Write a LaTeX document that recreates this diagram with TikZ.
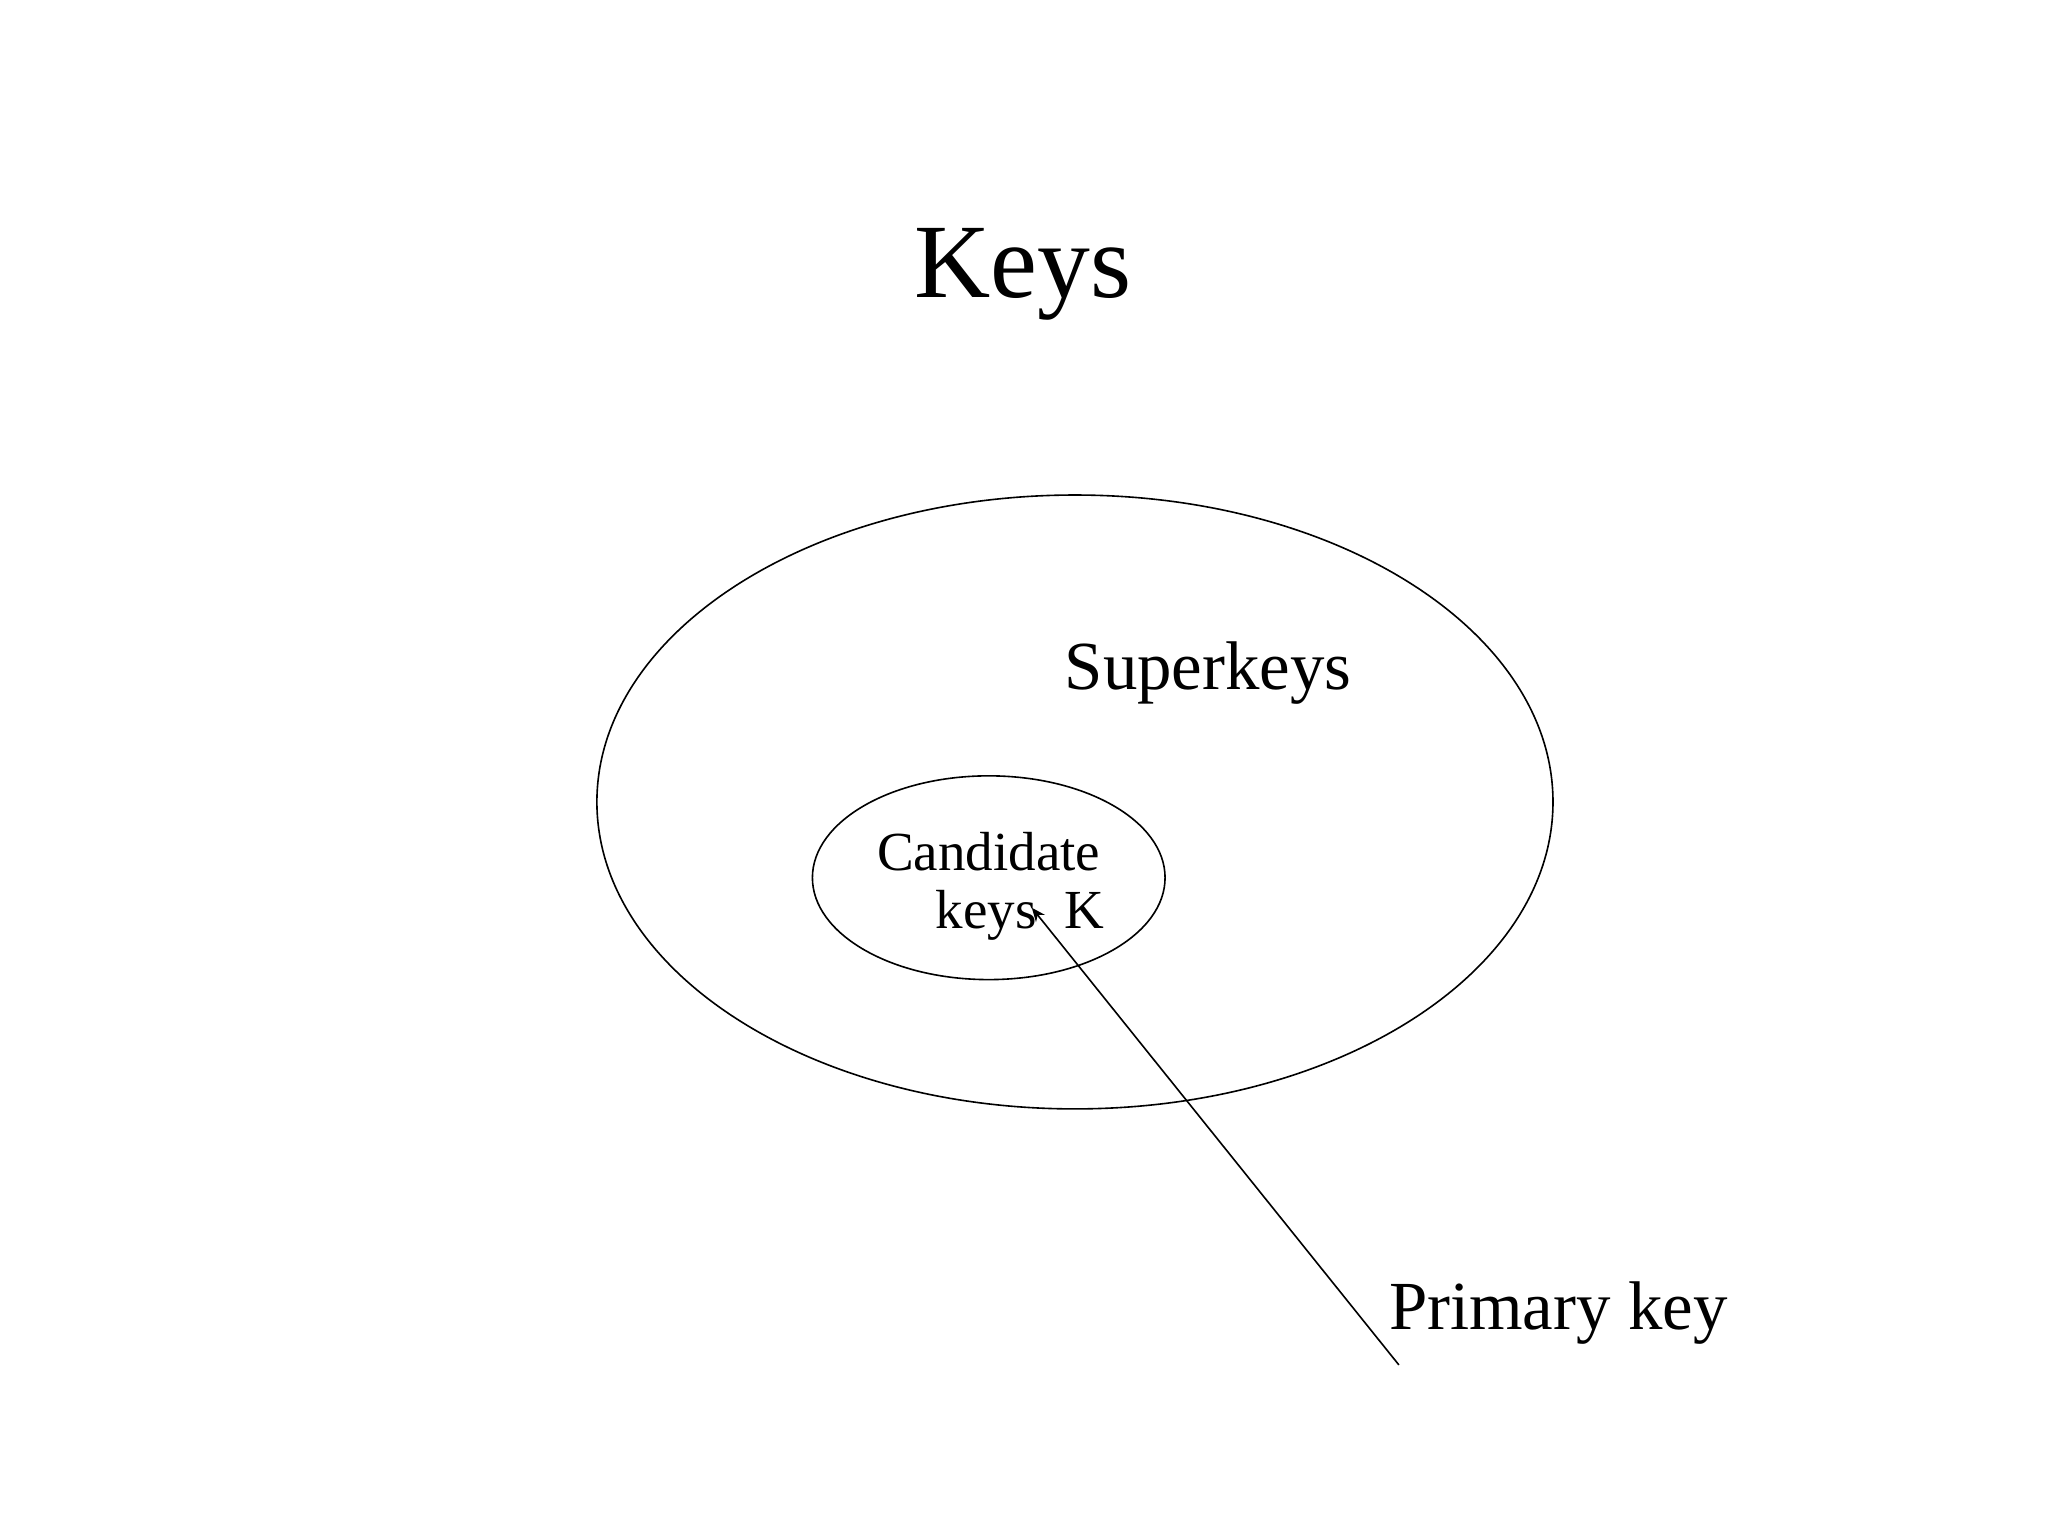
\documentclass[tikz,border=0pt]{standalone}
\usepackage{fontspec}
\usetikzlibrary{arrows.meta}
\setmainfont{Liberation Serif}
\begin{document}
\begin{tikzpicture}[x=0.02cm,y=-0.02cm,
  lbl/.style={inner sep=0pt, font=\fontsize{30}{36}\selectfont}]
\useasboundingbox (0,0) rectangle (1568,1176);
\node[inner sep=0pt, font=\fontsize{46}{52}\selectfont] (title) at (783,210) {Keys};
\draw[line width=0.7pt] (823,614) ellipse [x radius=366, y radius=235];
\node (outer) at (823,614) {};
\node[lbl] (super) at (925,515) {Superkeys};
\draw[line width=0.7pt] (757,672) ellipse [x radius=135, y radius=78];
\node[inner sep=0pt, font=\fontsize{24}{29}\selectfont] (cand) at (757,652) {Candidate};
\node[inner sep=0pt, font=\fontsize{24}{29}\selectfont] (keysk) at (781,701) {keys\ \ K};
\coordinate (pk) at (790,695);
\node[lbl] (prim) at (1193,1005) {Primary key};
\coordinate (tail) at (1071,1045);
\draw[line width=0.7pt,-{Stealth[length=6pt,width=5pt]}] (tail) -- (pk);
\end{tikzpicture}
\end{document}
